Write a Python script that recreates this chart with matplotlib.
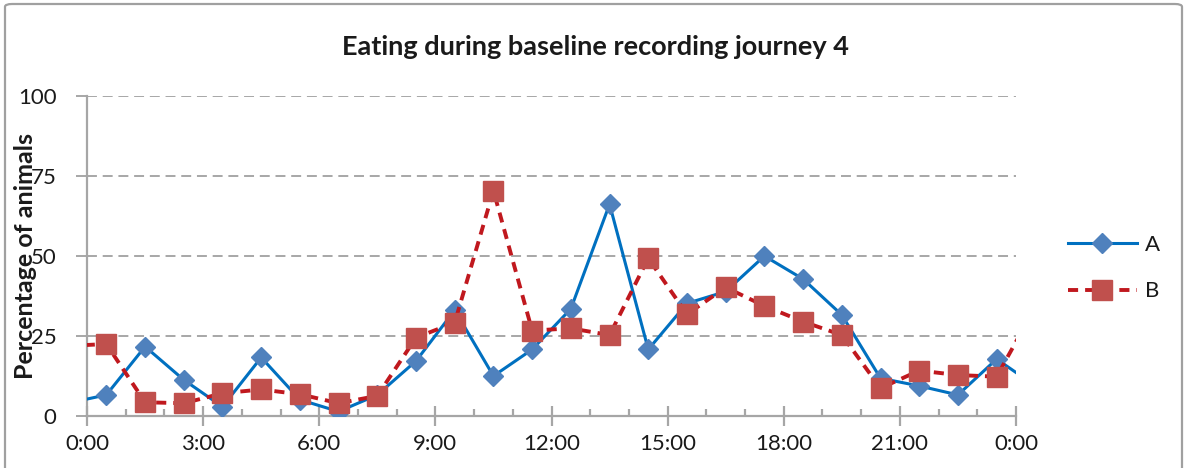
import matplotlib
matplotlib.use("Agg")
import matplotlib.pyplot as plt
from matplotlib.patches import FancyBboxPatch
from matplotlib.ticker import FixedLocator, MultipleLocator

# Half-hour bin centres (hours); the outer points continue the daily cycle past the axis limits
hours = [-0.5, 0.5, 1.5, 2.5, 3.5, 4.5, 5.5, 6.5, 7.5, 8.5, 9.5, 10.5, 11.5,
         12.5, 13.5, 14.5, 15.5, 16.5, 17.5, 18.5, 19.5, 20.5, 21.5, 22.5, 23.5, 24.5]
series_a = [3.9, 6.5, 21.6, 11.2, 2.8, 18.2, 5.0, 1.3, 6.5, 17.1, 33.0, 12.4, 20.7,
            33.4, 66.1, 20.7, 35.1, 38.8, 49.9, 42.7, 31.5, 11.7, 9.3, 6.5, 17.7, 9.3]
series_b = [21.8, 22.4, 4.2, 3.9, 7.0, 8.2, 6.7, 3.9, 6.2, 24.4, 29.1, 70.3, 26.6,
            27.3, 25.2, 49.2, 31.7, 40.1, 34.3, 29.4, 25.2, 8.6, 14.1, 12.7, 12.2, 34.0]
series_names = ["A", "B"]
tick_hours = [0, 3, 6, 9, 12, 15, 18, 21, 24]
tick_labels = ["0:00", "3:00", "6:00", "9:00", "12:00", "15:00", "18:00", "21:00", "0:00"]
y_ticks = [0, 25, 50, 75, 100]

plt.rcParams['font.family'] = ['Lato', 'DejaVu Sans']

W, H = 1184, 468
fig = plt.figure(figsize=(W / 100, H / 100), dpi=100)
ax = fig.add_axes([87 / W, 1 - 415.7 / H, (1016 - 87) / W, (415.7 - 95.7) / H])

axis_grey = "#a6a6a6"
grid_grey = "#a0a0a0"
text_col = "#1a1a1a"

# Outer chart frame
frame = FancyBboxPatch((5 / W, -0.05), (1182 - 5) / W, 1.05 - 4 / H,
                       boxstyle="round,pad=0,rounding_size=0.006",
                       transform=fig.transFigure, fill=False,
                       edgecolor=grid_grey, linewidth=1.6, zorder=0)
fig.patches.append(frame)

ax.plot(hours, series_a, color="#0070C0", linewidth=2.2, marker="D",
        markersize=10.2, markerfacecolor="#4F81BD", markeredgecolor="#4F81BD",
        label=series_names[0], zorder=3)
line_b, = ax.plot(hours, series_b, color="#C0181E", linewidth=2.8, marker="s",
                  markersize=14.5, markerfacecolor="#C0504D", markeredgecolor="#C0504D",
                  label=series_names[1], zorder=4)
line_b.set_dashes((2.6, 1.8))

ax.set_xlim(0, 24)
ax.set_ylim(0, 100)

ax.xaxis.set_major_locator(FixedLocator(tick_hours))
ax.set_xticklabels(tick_labels)
ax.xaxis.set_minor_locator(MultipleLocator(1))
ax.set_yticks(y_ticks)

ax.grid(axis="y", color=grid_grey, linestyle=(0, (5.5, 3.2)), linewidth=1.3)
ax.set_axisbelow(True)

for side in ("top", "right"):
    ax.spines[side].set_visible(False)
for side in ("left", "bottom"):
    ax.spines[side].set_color(axis_grey)
    ax.spines[side].set_linewidth(1.6)

ax.tick_params(axis="x", which="major", direction="inout", length=14, width=1.6,
               color=axis_grey, labelsize=16, pad=6, labelcolor=text_col)
ax.tick_params(axis="x", which="minor", direction="in", length=5, width=1.6,
               color=axis_grey)
ax.tick_params(axis="y", which="major", direction="out", length=8, width=1.3,
               color=grid_grey, labelsize=16, pad=14, labelcolor=text_col)

# Title centred on the whole chart area
fig.text(595 / W, 1 - 47 / H, "Eating during baseline recording journey 4",
         fontsize=19.5, fontweight="bold", color=text_col,
         ha="center", va="center")

ax.set_ylabel("Percentage of animals", fontsize=18, fontweight="bold",
              color=text_col)
ax.yaxis.set_label_coords((37 - 87) / 929, 0.5)

fig.legend(loc="center left", bbox_to_anchor=(1048 / W, 1 - 268 / H),
           frameon=False, fontsize=16, handlelength=3.1, handletextpad=0.35,
           labelspacing=1.2, labelcolor=text_col)

fig.savefig("out.png", dpi=100)
